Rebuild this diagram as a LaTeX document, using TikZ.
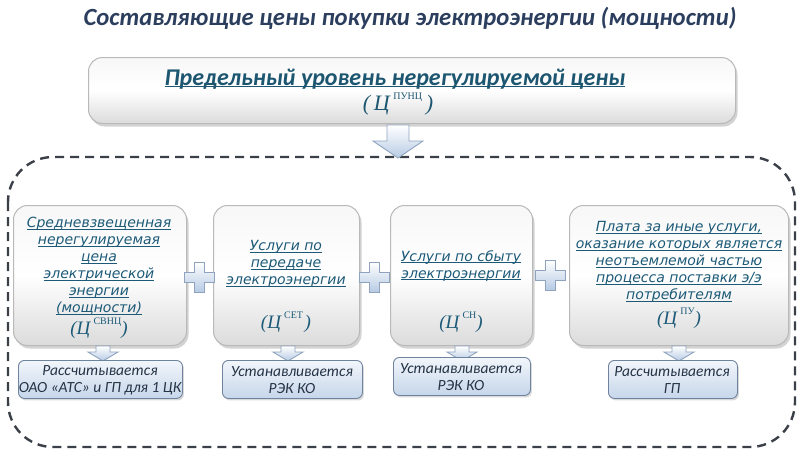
\documentclass[tikz,border=0pt]{standalone}
\usepackage{fontspec}
\setmainfont{Carlito}
\newfontfamily\boxfont{DejaVu Sans}
\newfontfamily\formfont{Liberation Serif}
\usetikzlibrary{shadows,calc}
\definecolor{titlec}{HTML}{2C3E5E}
\definecolor{headc}{HTML}{1D5670}
\definecolor{boxtxt}{HTML}{1C5A78}
\definecolor{dashc}{HTML}{3A3F48}
\definecolor{bluetop}{HTML}{F2F6FB}
\definecolor{bluebot}{HTML}{C6D6EA}
\definecolor{blueedge}{HTML}{6F839E}
\definecolor{arrbot}{HTML}{B7CBE4}
\definecolor{arredge}{HTML}{8FA3BF}
\definecolor{btxt}{HTML}{253347}
\newcommand{\Cf}[1]{{\formfont\itshape (Ц\,\raisebox{1.1ex}{\upshape\fontsize{10}{10}\selectfont #1})}}
\newcommand{\ul}[1]{\setbox0\hbox{#1}\rlap{\rule[-1.8pt]{\wd0}{0.7pt}}\box0}
\tikzset{
  graybox/.style={rounded corners=14pt, draw=gray!55, line width=1pt,
    top color=gray!6, bottom color=gray!28, middle color=white,
    drop shadow={shadow xshift=2pt, shadow yshift=-3pt, opacity=0.35}},
  bluebox/.style={rounded corners=6pt, draw=blueedge, line width=0.9pt,
    top color=bluetop, bottom color=bluebot,
    drop shadow={shadow xshift=1.5pt, shadow yshift=-2pt, opacity=0.3}},
  barrow/.style={draw=arredge, line width=0.9pt, top color=white, bottom color=arrbot},
  boxtext/.style={text=boxtxt, font=\boxfont\itshape\fontsize{14}{17}\selectfont, align=center, inner sep=0pt},
  btext/.style={text=btxt, font=\itshape\fontsize{15.5}{17}\selectfont, align=center, inner sep=0pt},
}
\begin{document}
\begin{tikzpicture}[x=1pt,y=-1pt]
\useasboundingbox (0,0) rectangle (807,466);
% title
\node[text=titlec, font=\bfseries\itshape\fontsize{24.7}{27}\selectfont] (title) at (410,18) {Составляющие цены покупки электроэнергии (мощности)};
% dashed container
\draw[dashc, line width=2.4pt, dash pattern=on 9pt off 6pt, rounded corners=45pt] (8,157) rectangle (795,447);
% top box
\node[graybox, minimum width=647pt, minimum height=66pt, anchor=north west] (top) at (88,57) {};
\node[text=headc, font=\bfseries\itshape\fontsize{24}{26}\selectfont, inner sep=0pt] (toptxt) at (395,79) {\ul{Предельный уровень нерегулируемой цены}};
\node[text=headc, font=\formfont\itshape\fontsize{22}{24}\selectfont, inner sep=0pt] (topf) at (398,104) {(\,Ц\,\raisebox{1.1ex}{\upshape\fontsize{10}{10}\selectfont ПУНЦ}\,)};
% main arrow
\coordinate (a0) at (398,125);
\path[barrow] (a0) ++(-11,0) -- ++(22,0) -- ++(0,16) -- ++(14,0) -- ++(-25,17) -- ++(-25,-17) -- ++(14,0) -- cycle;
% four gray boxes
\node[graybox, minimum width=173pt, minimum height=140pt, anchor=north west] (b1) at (13,205) {};
\node[graybox, minimum width=146pt, minimum height=140pt, anchor=north west] (b2) at (213,205) {};
\node[graybox, minimum width=142pt, minimum height=140pt, anchor=north west] (b3) at (390,205) {};
\node[graybox, minimum width=219pt, minimum height=140pt, anchor=north west] (b4) at (569,205) {};
% texts
\node[boxtext, anchor=north] (t1) at (99,217) {\ul{Средневзвещенная}\\\ul{нерегулируемая}\\\ul{цена}\\\ul{электрической}\\\ul{энергии}\\\ul{(мощности)}};
\node[inner sep=0pt, text=boxtxt, font=\fontsize{19}{19}\selectfont] (f1) at (99,328) {\Cf{СВНЦ}};
\node[boxtext, anchor=north] (t2) at (286,240) {\ul{Услуги по}\\\ul{передаче}\\\ul{электроэнергии}};
\node[inner sep=0pt, text=boxtxt, font=\fontsize{19}{19}\selectfont] (f2) at (286,322) {\Cf{СЕТ\,}};
\node[boxtext, anchor=north] (t3) at (461,250) {\ul{Услуги по сбыту}\\\ul{электроэнергии}};
\node[inner sep=0pt, text=boxtxt, font=\fontsize{19}{19}\selectfont] (f3) at (461,322) {\Cf{СН}};
\node[boxtext, anchor=north] (t4) at (679,221) {\ul{Плата за иные услуги,}\\\ul{оказание которых является}\\\ul{неотъемлемой частью}\\\ul{процесса поставки э/э}\\\ul{потребителям}};
\node[inner sep=0pt, text=boxtxt, font=\fontsize{19}{19}\selectfont] (f4) at (679,318) {\Cf{ПУ}};
% plus signs
\foreach \n/\cx/\cy in {p1/199/277, p2/374/277, p3/550/275} {
  \coordinate (\n) at (\cx,\cy);
  \path[barrow] (\n) ++(-5,-15) -- ++(10,0) -- ++(0,10) -- ++(10,0) -- ++(0,10) -- ++(-10,0) -- ++(0,10) -- ++(-10,0) -- ++(0,-10) -- ++(-10,0) -- ++(0,-10) -- ++(10,0) -- cycle;
}
% small arrows
\foreach \n/\cx in {s1/103, s2/288, s3/462, s4/679} {
  \coordinate (\n) at (\cx,346);
  \path[barrow] (\n) ++(-7,0) -- ++(14,0) -- ++(0,6) -- ++(8,0) -- ++(-15,9) -- ++(-15,-9) -- ++(8,0) -- cycle;
}
% bottom boxes
\node[bluebox, minimum width=164pt, minimum height=38pt, anchor=north west] (c1) at (18,360) {};
\node[bluebox, minimum width=140pt, minimum height=38pt, anchor=north west] (c2) at (222,360) {};
\node[bluebox, minimum width=137pt, minimum height=38pt, anchor=north west] (c3) at (393,357) {};
\node[bluebox, minimum width=129pt, minimum height=38pt, anchor=north west] (c4) at (608,360) {};
\node[btext] (ct1) at (100,380) {Рассчитывается\\ОАО «АТС» и ГП для 1 ЦК};
\node[btext] (ct2) at (292,380) {Устанавливается\\РЭК КО};
\node[btext] (ct3) at (461,377) {Устанавливается\\РЭК КО};
\node[btext] (ct4) at (672,380) {Рассчитывается\\ГП};
\end{tikzpicture}
\end{document}
